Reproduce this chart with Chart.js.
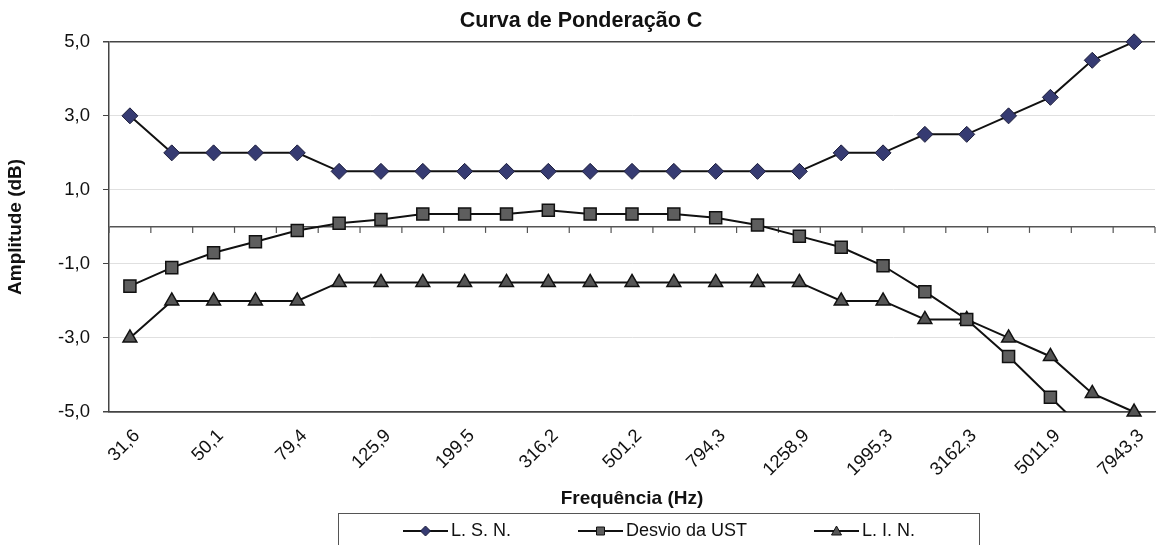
<!DOCTYPE html>
<html>
<head>
<meta charset="utf-8">
<title>Curva de Ponderação C</title>
<script src="https://cdn.jsdelivr.net/npm/chart.js@4.4.1/dist/chart.umd.min.js"></script>
<style>
  body { margin: 0; background: #fff; overflow: hidden; }
  #wrap { position: relative; width: 1165px; height: 545px; }
  #legend {
    position: absolute; left: 338px; top: 513px; width: 642px; height: 45px;
    box-sizing: border-box; border: 1px solid #555;
    display: flex; align-items: flex-start;
    padding: 6px 0 0 64px;
    font: 18px Arial, "Liberation Sans", sans-serif; color: #111;
  }
  .item { display: flex; align-items: center; margin-right: 67px; white-space: nowrap; }
  .item canvas { margin-right: 3px; }
</style>
</head>
<body>
<div id="wrap">
  <canvas id="curveChart"></canvas>
  <div id="legend"></div>
</div>
<script>
const FONT = 'Arial, "Liberation Sans", sans-serif';

// Frequências (Hz) - bandas de terço de oitava
const freqLabels = ['31,6', '39,8', '50,1', '63,1', '79,4', '100,0', '125,9', '158,5', '199,5', '251,2',
  '316,2', '398,1', '501,2', '631,0', '794,3', '1000,0', '1258,9', '1584,9', '1995,3', '2511,9',
  '3162,3', '3981,1', '5011,9', '6309,6', '7943,3'];

// Limite superior normalizado
const lsnValues = [3, 2, 2, 2, 2, 1.5, 1.5, 1.5, 1.5, 1.5, 1.5, 1.5, 1.5, 1.5, 1.5, 1.5, 1.5,
  2, 2, 2.5, 2.5, 3, 3.5, 4.5, 5];

// Desvio medido da UST
const desvioValues = [-1.6, -1.1, -0.7, -0.4, -0.1, 0.1, 0.2, 0.35, 0.35, 0.35, 0.45, 0.35, 0.35, 0.35,
  0.25, 0.05, -0.25, -0.55, -1.05, -1.75, -2.5, -3.5, -4.6, -5.7, -6.8];

// Limite inferior normalizado
const linValues = [-3, -2, -2, -2, -2, -1.5, -1.5, -1.5, -1.5, -1.5, -1.5, -1.5, -1.5, -1.5, -1.5, -1.5, -1.5,
  -2, -2, -2.5, -2.5, -3, -3.5, -4.5, -5];

const yTicks = [-5, -3, -1, 0, 1, 3, 5];

// small tick marks hanging under the zero line, between categories
const zeroTicks = {
  id: 'zeroTicks',
  beforeDatasetsDraw(chart) {
    const { ctx, scales: { x, y } } = chart;
    const y0 = y.getPixelForValue(0);
    ctx.save();
    ctx.strokeStyle = '#555';
    ctx.lineWidth = 1.2;
    for (let i = 0; i <= freqLabels.length; i++) {
      const px = x.getPixelForValue(i - 0.5);
      ctx.beginPath();
      ctx.moveTo(px, y0);
      ctx.lineTo(px, y0 + 6);
      ctx.stroke();
    }
    ctx.restore();
  }
};

const chart = new Chart(document.getElementById('curveChart'), {
  type: 'line',
  data: {
    labels: freqLabels,
    datasets: [
      {
        label: 'L. S. N.',
        data: lsnValues,
        borderColor: '#111',
        borderWidth: 2,
        pointStyle: 'rectRot',
        pointRadius: 8,
        pointBackgroundColor: '#363b72',
        pointBorderColor: '#1c1d3a',
        pointBorderWidth: 1,
        clip: false
      },
      {
        label: 'Desvio da UST',
        data: desvioValues,
        borderColor: '#111',
        borderWidth: 2,
        pointStyle: 'rect',
        pointRadius: 8.5,
        pointBackgroundColor: '#5e5e5e',
        pointBorderColor: '#111',
        pointBorderWidth: 1.5,
        clip: { left: 20, top: 20, right: 20, bottom: 0 }
      },
      {
        label: 'L. I. N.',
        data: linValues,
        borderColor: '#111',
        borderWidth: 2,
        pointStyle: 'triangle',
        pointRadius: 8,
        pointBackgroundColor: '#555',
        pointBorderColor: '#111',
        pointBorderWidth: 1.5,
        clip: false
      }
    ]
  },
  options: {
    responsive: true,
    maintainAspectRatio: false,
    animation: false,
    layout: { padding: { right: 3 } },
    plugins: {
      legend: { display: false },
      tooltip: { enabled: false },
      title: {
        display: true,
        text: 'Curva de Ponderação C',
        color: '#111',
        font: { family: FONT, size: 21.5, weight: 'bold' },
        padding: { top: 8, bottom: 8 }
      }
    },
    scales: {
      x: {
        offset: true,
        grid: { display: true, drawOnChartArea: false, drawTicks: false },
        border: { color: '#444', width: 1.5 },
        ticks: {
          autoSkip: false,
          maxRotation: 45,
          minRotation: 45,
          padding: 13,
          labelOffset: 7,
          color: '#111',
          font: { family: FONT, size: 18.5 },
          callback: (v, i) => (i % 2 === 0 ? freqLabels[i] : '')
        },
        title: {
          display: true,
          text: 'Frequência (Hz)',
          color: '#111',
          font: { family: FONT, size: 19, weight: 'bold' },
          padding: { top: 4, bottom: 35 }
        },
        afterFit: s => { s.height = 133; }
      },
      y: {
        min: -5,
        max: 5,
        afterBuildTicks: s => { s.ticks = yTicks.map(v => ({ value: v })); },
        ticks: {
          padding: 13,
          color: '#111',
          font: { family: FONT, size: 18.5 },
          callback: v => (v === 0 ? '' : v.toFixed(1).replace('.', ','))
        },
        grid: {
          color: c => (Math.abs(c.tick.value) === 5 ? '#444' : c.tick.value === 0 ? '#555' : '#e0e0e0'),
          lineWidth: c => (Math.abs(c.tick.value) === 5 || c.tick.value === 0 ? 1.5 : 1),
          tickLength: 6,
          tickColor: c => (c.tick.value === 0 ? 'rgba(0,0,0,0)' : '#444')
        },
        border: { color: '#444', width: 1.5 },
        title: {
          display: true,
          text: 'Amplitude (dB)',
          color: '#111',
          font: { family: FONT, size: 19, weight: 'bold' },
          padding: { top: 4, bottom: 0 }
        },
        afterFit: s => { s.width = 109; }
      }
    }
  },
  plugins: [zeroTicks]
});

// Legend (Excel style: line with marker, inside a box)
function legendIcon(ds) {
  const c = document.createElement('canvas');
  c.width = 45; c.height = 16;
  const g = c.getContext('2d');
  g.strokeStyle = ds.borderColor;
  g.lineWidth = 2;
  g.beginPath(); g.moveTo(0, 8); g.lineTo(45, 8); g.stroke();
  g.fillStyle = ds.pointBackgroundColor;
  g.strokeStyle = ds.pointBorderColor;
  g.lineWidth = 1;
  g.beginPath();
  if (ds.pointStyle === 'rectRot') {
    g.moveTo(22.5, 3); g.lineTo(27.5, 8); g.lineTo(22.5, 13); g.lineTo(17.5, 8);
  } else if (ds.pointStyle === 'rect') {
    g.rect(18.5, 4, 8, 8);
  } else {
    g.moveTo(22.5, 3); g.lineTo(27.5, 12); g.lineTo(17.5, 12);
  }
  g.closePath(); g.fill(); g.stroke();
  return c;
}

const legendEl = document.getElementById('legend');
chart.data.datasets.forEach(ds => {
  const item = document.createElement('div');
  item.className = 'item';
  item.appendChild(legendIcon(ds));
  const span = document.createElement('span');
  span.textContent = ds.label;
  item.appendChild(span);
  legendEl.appendChild(item);
});
</script>
</body>
</html>
